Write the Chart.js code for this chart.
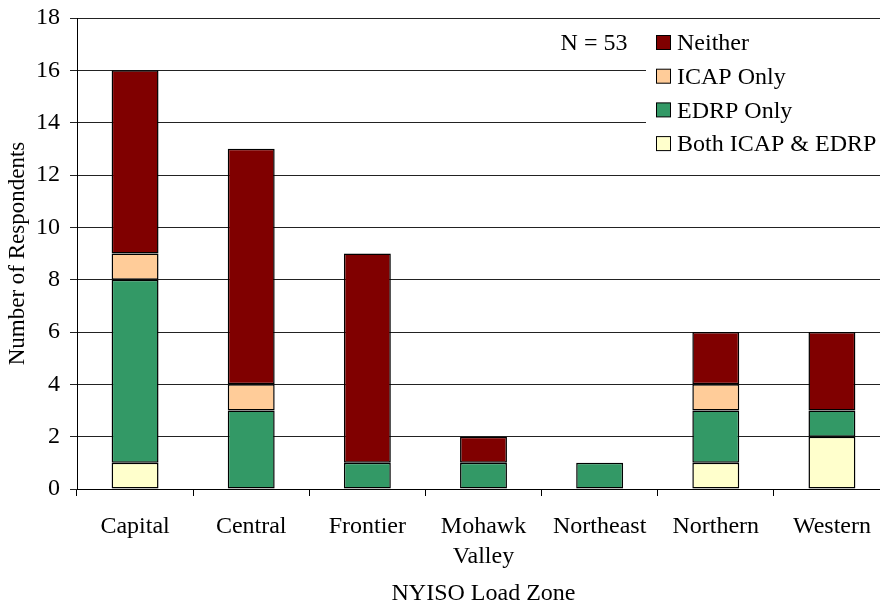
<!DOCTYPE html>
<html>
<head>
<meta charset="utf-8">
<script src="https://cdn.jsdelivr.net/npm/chart.js@4"></script>
<style>
  html, body { margin: 0; padding: 0; background: #fff; overflow: hidden; }
  #wrap { width: 892px; height: 605px; position: relative; }
</style>
</head>
<body>
<div id="wrap"><canvas id="zoneChart"></canvas></div>
<script>
// ── Data ────────────────────────────────────────────────
const zones   = ["Capital", "Central", "Frontier", ["Mohawk", "Valley"], "Northeast", "Northern", "Western"];
const both    = [1, 0, 0, 0, 0, 1, 2];
const edrp    = [7, 3, 1, 1, 1, 2, 1];
const icap    = [1, 1, 0, 0, 0, 1, 0];
const neither = [7, 9, 8, 1, 0, 2, 3];
const yTicks  = [0, 2, 4, 6, 8, 10, 12, 14, 16, 18];
const sampleNote = "N = 53";

const serif = "'Liberation Serif', 'Times New Roman', serif";

function series(label, data, color) {
  return {
    label: label,
    data: data,
    backgroundColor: color,
    borderColor: "#000",
    borderWidth: 1.5,
    borderSkipped: false,
    categoryPercentage: 1,
    barPercentage: 0.404
  };
}

// legend drawn inside the plot, on a white box, plus the N note
const insideLegend = {
  id: "insideLegend",
  afterDatasetsDraw: function (chart) {
    const ctx = chart.ctx;
    ctx.save();
    ctx.fillStyle = "#fff";
    ctx.fillRect(646, 20, 250, 150);

    ctx.font = "24px " + serif;
    ctx.fillStyle = "#000";
    ctx.textBaseline = "middle";
    ctx.textAlign = "center";
    ctx.fillText(sampleNote, 594, 44);

    ctx.textAlign = "left";
    const sets = chart.data.datasets.slice().reverse();
    sets.forEach(function (ds, i) {
      const cy = 43 + i * 33.7;
      ctx.fillStyle = ds.backgroundColor;
      ctx.fillRect(656.5, cy - 7.5, 14, 14);
      ctx.strokeStyle = "#000";
      ctx.lineWidth = 1;
      ctx.strokeRect(656.5, cy - 7.5, 14, 14);
      ctx.fillStyle = "#000";
      ctx.fillText(ds.label, 677, cy + 1);
    });
    ctx.restore();
  }
};

new Chart(document.getElementById("zoneChart"), {
  type: "bar",
  data: {
    labels: zones,
    datasets: [
      series("Both ICAP & EDRP", both, "#FFFFCC"),
      series("EDRP Only", edrp, "#339966"),
      series("ICAP Only", icap, "#FFCC99"),
      series("Neither", neither, "#800000")
    ]
  },
  options: {
    responsive: true,
    maintainAspectRatio: false,
    animation: false,
    layout: { padding: { top: 18, left: 4, right: 2, bottom: 0 } },
    plugins: {
      legend: { display: false },
      tooltip: { enabled: false }
    },
    scales: {
      x: {
        stacked: true,
        grid: { offset: true, drawOnChartArea: false, drawTicks: true, tickLength: 7, color: "#000" },
        border: { color: "#000" },
        ticks: { color: "#000", font: { family: serif, size: 24, lineHeight: 1.25 }, padding: 16, maxRotation: 0, autoSkip: false },
        title: { display: true, text: "NYISO Load Zone", color: "#000", font: { family: serif, size: 24, lineHeight: 0.9 }, padding: { top: 2, bottom: 0 } },
        afterFit: function (s) { s.height = 116; s.paddingLeft = 0; s.paddingRight = 0; }
      },
      y: {
        stacked: true,
        min: 0,
        max: 18,
        afterBuildTicks: function (s) { s.ticks = yTicks.map(function (v) { return { value: v }; }); },
        grid: { color: "#222", tickLength: 7 },
        border: { color: "#000" },
        ticks: { color: "#000", font: { family: serif, size: 24 }, padding: 10 },
        title: { display: true, text: "Number of Respondents", color: "#000", font: { family: serif, size: 23 }, padding: 0 },
        afterFit: function (s) { s.width = 73; s.paddingTop = 0; s.paddingBottom = 0; }
      }
    }
  },
  plugins: [insideLegend]
});
</script>
</body>
</html>
